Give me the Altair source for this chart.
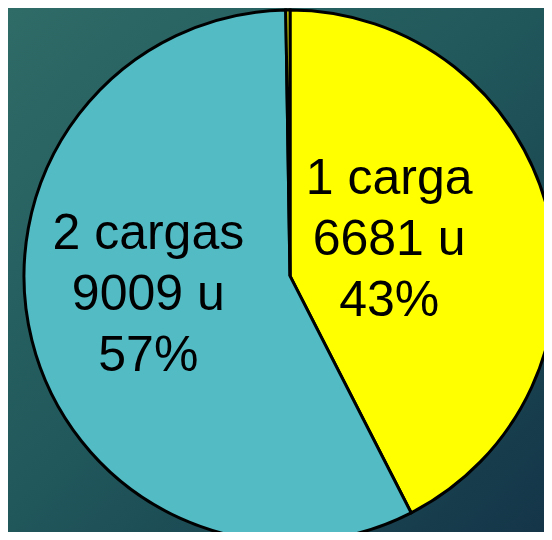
import altair as alt
import pandas as pd

# Data
categories = ["1 carga", "2 cargas", "3 cargas"]
units = [6681, 9009, 40]
percents = ["43%", "57%", ""]
colors = ["#ffff00", "#52bbc4", "#ffff00"]

W, H = 536, 524
CX, CY = 282, 268

df = pd.DataFrame({
    "categoria": categories,
    "unidades": units,
    "pct": percents,
    "idx": list(range(len(categories))),
})
df["label1"] = [f"{c}\n{u} u\n{p}" if p else "" for c, u, p in zip(categories, units, percents)]

bg = alt.Chart(pd.DataFrame({"a": [0]})).mark_rect(
    color=alt.Gradient(
        gradient="linear",
        stops=[
            alt.GradientStop(color="#2f6b67", offset=0),
            alt.GradientStop(color="#20575b", offset=0.5),
            alt.GradientStop(color="#143548", offset=1),
        ],
        x1=0, y1=0, x2=1, y2=1,
    )
).encode(
    x=alt.value(0), x2=alt.value(W), y=alt.value(0), y2=alt.value(H)
)

base = alt.Chart(df).encode(
    theta=alt.Theta("unidades:Q", stack=True),
    order=alt.Order("idx:Q"),
    x=alt.value(CX),
    y=alt.value(CY),
)

pie = base.mark_arc(radius=266, stroke="black", strokeWidth=3).encode(
    color=alt.Color(
        "categoria:N",
        scale=alt.Scale(domain=categories, range=colors),
        legend=None,
    )
)

def label_layer(cat, radius, dy):
    return base.transform_calculate(
        txt=f"datum.categoria == '{cat}' ? datum.label1 : ''"
    ).mark_text(
        radius=radius,
        dy=dy,
        font="Liberation Sans",
        fontSize=50,
        lineHeight=61,
        lineBreak="\n",
        align="center",
        baseline="middle",
        color="black",
    ).encode(text="txt:N")

lab1 = label_layer("1 carga", 102, -73)
lab2 = label_layer("2 cargas", 146, -77)

chart = alt.layer(bg, pie, lab1, lab2).properties(
    width=W,
    height=H,
    autosize=alt.AutoSizeParams(type="none"),
    padding=0,
    background="#20575b",
).configure_view(stroke=None)

chart.save("out.html", embed_options={"renderer": "svg", "actions": False})
